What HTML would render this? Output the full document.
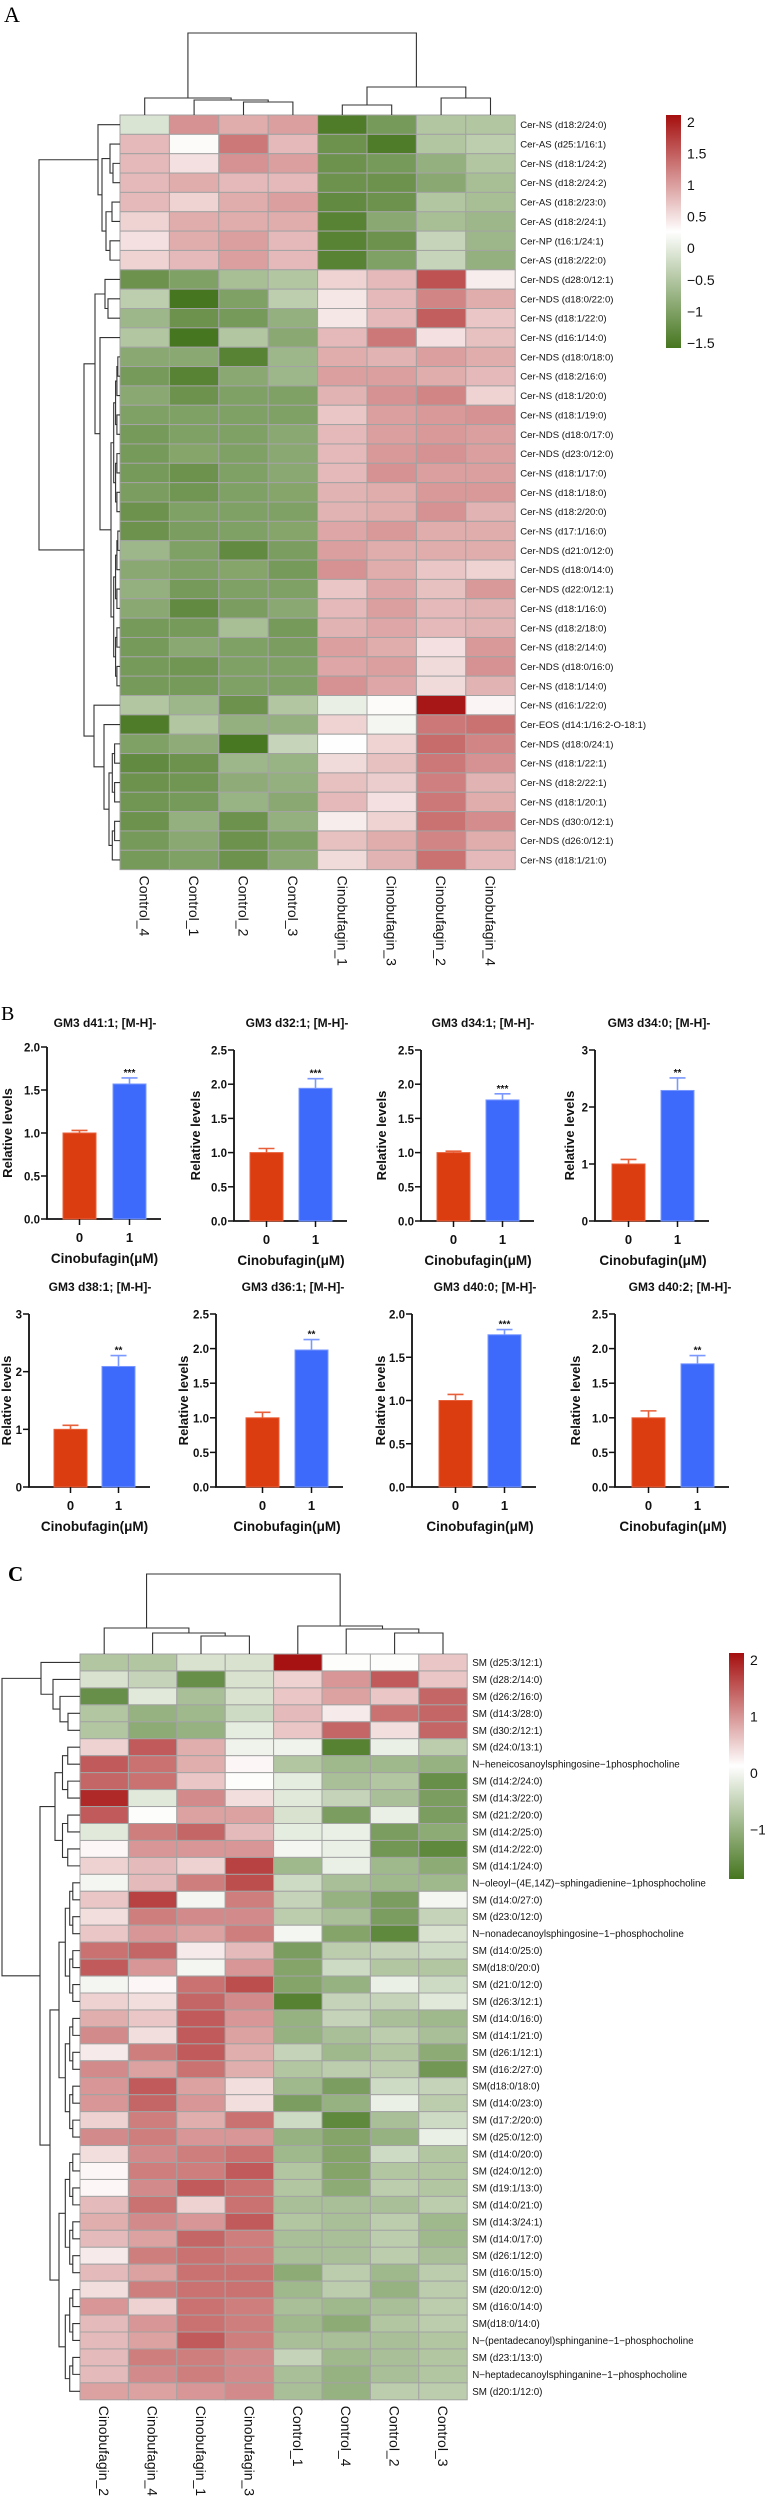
<!DOCTYPE html>
<html><head><meta charset="utf-8">
<style>
html,body{margin:0;padding:0;background:#fff;}
svg{display:block;font-family:"Liberation Sans",Arial,sans-serif;}
</style></head>
<body>
<svg id="fig" width="765" height="2500" viewBox="0 0 765 2500" xmlns="http://www.w3.org/2000/svg">
<defs>
<linearGradient id="gradA" x1="0" y1="1" x2="0" y2="0">
<stop offset="0" stop-color="#46761f"/><stop offset="0.5" stop-color="#ffffff"/><stop offset="1" stop-color="#a50f0f"/>
</linearGradient>
<linearGradient id="gradC" x1="0" y1="1" x2="0" y2="0">
<stop offset="0" stop-color="#46761f"/><stop offset="0.5" stop-color="#ffffff"/><stop offset="1" stop-color="#a50f0f"/>
</linearGradient>
</defs>
<text x="4" y="22" font-family="Liberation Serif,serif" font-size="22">A</text>
<text x="1" y="1020" font-family="Liberation Serif,serif" font-size="20">B</text>
<text x="8" y="1581" font-family="Liberation Serif,serif" font-size="21" font-weight="bold">C</text>
<g id="heatA"></g>
<g id="barsB"></g>
<g id="heatC"></g>
</svg>
<script>
// ===== Panel A data =====
const colsA = ["Control_4","Control_1","Control_2","Control_3","Cinobufagin_1","Cinobufagin_3","Cinobufagin_2","Cinobufagin_4"];
const rowsA = ["Cer-NS (d18:2/24:0)","Cer-AS (d25:1/16:1)","Cer-NS (d18:1/24:2)","Cer-NS (d18:2/24:2)","Cer-AS (d18:2/23:0)","Cer-AS (d18:2/24:1)","Cer-NP (t16:1/24:1)","Cer-AS (d18:2/22:0)","Cer-NDS (d28:0/12:1)","Cer-NDS (d18:0/22:0)","Cer-NS (d18:1/22:0)","Cer-NS (d16:1/14:0)","Cer-NDS (d18:0/18:0)","Cer-NS (d18:2/16:0)","Cer-NS (d18:1/20:0)","Cer-NS (d18:1/19:0)","Cer-NDS (d18:0/17:0)","Cer-NDS (d23:0/12:0)","Cer-NS (d18:1/17:0)","Cer-NS (d18:1/18:0)","Cer-NS (d18:2/20:0)","Cer-NS (d17:1/16:0)","Cer-NDS (d21:0/12:0)","Cer-NDS (d18:0/14:0)","Cer-NDS (d22:0/12:1)","Cer-NS (d18:1/16:0)","Cer-NS (d18:2/18:0)","Cer-NS (d18:2/14:0)","Cer-NDS (d18:0/16:0)","Cer-NS (d18:1/14:0)","Cer-NS (d16:1/22:0)","Cer-EOS (d14:1/16:2-O-18:1)","Cer-NDS (d18:0/24:1)","Cer-NS (d18:1/22:1)","Cer-NS (d18:2/22:1)","Cer-NS (d18:1/20:1)","Cer-NDS (d30:0/12:1)","Cer-NDS (d26:0/12:1)","Cer-NS (d18:1/21:0)"];
const valsA = [
[-0.1,1.1,0.9,1.0,-1.5,-1.1,-0.5,-0.5],[0.8,0.3,1.3,0.8,-1.2,-1.5,-0.5,-0.4],[0.8,0.5,1.1,1.0,-1.2,-1.1,-0.8,-0.5],[0.8,0.9,0.8,0.8,-1.2,-1.2,-0.9,-0.6],
[0.8,0.6,0.9,1.0,-1.3,-1.2,-0.5,-0.6],[0.6,0.9,0.9,0.9,-1.4,-0.9,-0.6,-0.7],[0.5,0.9,1.0,0.8,-1.4,-1.2,-0.3,-0.7],[0.6,0.8,1.0,0.8,-1.4,-1.0,-0.3,-0.8],
[-1.2,-1.0,-0.6,-0.5,0.6,0.8,1.6,0.4],[-0.4,-1.6,-1.0,-0.4,0.45,0.8,1.2,0.9],[-0.7,-1.2,-1.1,-0.8,0.45,0.8,1.5,0.7],[-0.5,-1.6,-0.5,-0.9,0.8,1.3,0.5,0.75],
[-0.9,-0.9,-1.4,-0.7,0.9,0.85,1.0,0.9],[-1.1,-1.4,-0.9,-0.7,1.0,1.0,0.9,0.8],[-0.9,-1.2,-1.0,-1.0,0.85,1.1,1.2,0.6],[-1.0,-1.0,-1.0,-1.0,0.7,1.0,1.05,1.1],
[-1.1,-1.0,-1.0,-0.9,0.8,1.0,1.05,1.0],[-1.1,-0.95,-1.0,-0.9,0.8,1.05,1.1,1.0],[-1.1,-1.2,-1.0,-0.9,0.8,1.1,1.0,1.0],[-1.05,-1.15,-1.0,-0.95,0.85,0.9,1.05,1.05],
[-1.2,-1.0,-1.0,-1.0,0.85,0.9,1.1,0.85],[-1.2,-1.05,-1.0,-0.95,0.95,1.05,0.9,0.9],[-0.7,-1.0,-1.3,-1.05,1.0,0.9,0.9,0.9],[-0.9,-1.0,-0.95,-1.1,1.1,0.9,0.7,0.6],
[-0.8,-1.1,-1.0,-1.0,0.7,0.95,0.75,1.05],[-0.9,-1.3,-1.05,-0.9,0.8,1.0,0.8,0.85],[-1.1,-1.1,-0.6,-1.1,0.85,0.95,0.8,0.85],[-1.1,-0.9,-1.0,-1.05,1.0,0.9,0.5,1.05],
[-1.1,-1.15,-1.0,-1.0,0.95,1.0,0.55,1.1],[-1.1,-1.1,-1.0,-1.0,1.1,0.95,0.55,0.85],[-0.5,-0.7,-1.2,-0.5,0.05,0.3,2.05,0.35],[-1.5,-0.5,-0.8,-0.8,0.6,0.15,1.3,1.35],
[-1.0,-0.85,-1.55,-0.3,0.25,0.6,1.4,1.2],[-1.3,-1.2,-0.7,-0.75,0.55,0.75,1.3,1.1],[-1.2,-1.15,-0.85,-0.8,0.75,0.65,1.25,0.85],[-1.15,-1.1,-0.75,-0.9,0.8,0.5,1.3,0.9],
[-1.2,-0.8,-1.2,-0.8,0.4,0.6,1.35,1.15],[-1.1,-0.9,-1.2,-1.0,0.75,0.9,1.2,0.9],[-1.1,-1.0,-1.2,-0.9,0.55,0.85,1.35,0.8]];
const ticksA = [2,1.5,1,0.5,0,-0.5,-1,-1.5];

// ===== Panel C data =====
const colsC = ["Cinobufagin_2","Cinobufagin_4","Cinobufagin_1","Cinobufagin_3","Control_1","Control_4","Control_2","Control_3"];
const rowsC = ["SM (d25:3/12:1)","SM (d28:2/14:0)","SM (d26:2/16:0)","SM (d14:3/28:0)","SM (d30:2/12:1)","SM (d24:0/13:1)","N\u2212heneicosanoylsphingosine\u22121phosphocholine","SM (d14:2/24:0)","SM (d14:3/22:0)","SM (d21:2/20:0)","SM (d14:2/25:0)","SM (d14:2/22:0)","SM (d14:1/24:0)","N\u2212oleoyl\u2212(4E,14Z)\u2212sphingadienine\u22121phosphocholine"," SM (d14:0/27:0)","SM (d23:0/12:0)","N\u2212nonadecanoylsphingosine\u22121\u2212phosphocholine","SM (d14:0/25:0)","SM(d18:0/20:0)","SM (d21:0/12:0)","SM (d26:3/12:1)","SM (d14:0/16:0)","SM (d14:1/21:0)","SM (d26:1/12:1)","SM (d16:2/27:0)","SM(d18:0/18:0)","SM (d14:0/23:0)","SM (d17:2/20:0)","SM (d25:0/12:0)","SM (d14:0/20:0)","SM (d24:0/12:0)","SM (d19:1/13:0)","SM (d14:0/21:0)","SM (d14:3/24:1)","SM (d14:0/17:0)","SM (d26:1/12:0)","SM (d16:0/15:0)","SM (d20:0/12:0)","SM (d16:0/14:0)","SM(d18:0/14:0)","N\u2212(pentadecanoyl)sphinganine\u22121\u2212phosphocholine","SM (d23:1/13:0)","N\u2212heptadecanoylsphinganine\u22121\u2212phosphocholine","SM (d20:1/12:0)"];
const valsC = [
[-0.7,-0.7,-0.3,-0.3,2.1,0.1,0.1,0.6],[-0.3,-0.5,-1.5,-0.3,0.5,1.0,1.5,0.6],[-1.5,-0.2,-0.8,-0.3,0.6,0.9,0.6,1.4],[-0.7,-1.0,-0.9,-0.4,0.7,0.3,1.3,1.4],
[-0.7,-1.1,-1.0,-0.15,0.6,1.4,0.4,1.4],[0.5,1.5,0.8,-0.05,-0.05,-1.7,-0.1,-0.6],[1.5,1.3,0.8,0.2,-0.7,-0.9,-0.9,-1.0],[1.4,1.3,0.6,0.1,-0.15,-0.8,-0.7,-1.5],
[1.9,-0.2,1.1,0.4,-0.2,-0.5,-0.8,-1.3],[1.5,0.1,0.9,0.9,-0.3,-1.3,-0.1,-1.3],[-0.2,1.2,1.4,0.7,-0.15,-0.1,-1.3,-1.1],[0.2,1.0,1.0,1.0,0.0,-0.1,-1.4,-1.6],
[0.5,0.7,0.5,1.7,-0.9,-0.1,-0.9,-1.1],[0.0,0.7,1.2,1.6,-0.4,-0.8,-0.9,-0.9],[0.6,1.7,0.0,1.2,-0.5,-1.0,-1.3,0.0],[0.4,1.2,1.1,1.1,-0.6,-0.8,-1.3,-0.5],
[0.6,1.0,0.9,1.2,0.0,-1.2,-1.6,-0.3],[1.3,1.4,0.3,0.7,-1.3,-0.6,-0.5,-0.4],[1.5,1.0,0.0,1.0,-1.2,-0.4,-0.7,-0.7],[0.0,0.2,1.3,1.6,-1.2,-1.0,-0.1,-0.4],
[0.5,0.4,1.4,1.1,-1.7,-0.5,-0.5,-0.2],[0.8,0.6,1.5,1.0,-1.0,-0.5,-0.8,-0.9],[1.1,0.4,1.5,0.9,-1.0,-0.8,-0.6,-0.8],[0.3,1.2,1.5,0.8,-0.5,-0.9,-0.7,-1.1],
[1.1,0.9,1.3,0.8,-0.7,-0.6,-0.6,-1.4],[1.0,1.5,0.9,0.4,-0.9,-1.3,-0.4,-0.5],[1.0,1.4,1.0,0.4,-1.3,-1.0,-0.1,-0.6],[0.5,1.2,0.8,1.3,-0.4,-1.6,-0.8,-0.4],
[1.1,1.2,1.0,1.0,-1.0,-1.2,-1.0,-0.1],[0.4,1.1,1.2,1.3,-0.9,-1.2,-0.4,-0.7],[0.2,1.2,1.2,1.5,-0.7,-1.2,-0.7,-0.7],[0.2,1.1,1.5,1.3,-0.7,-1.1,-0.6,-0.7],
[0.7,1.3,0.5,1.3,-0.8,-0.8,-0.8,-0.6],[0.8,1.1,1.0,1.5,-0.7,-0.8,-0.6,-0.9],[0.7,0.9,1.4,1.2,-0.8,-0.8,-0.6,-0.9],[0.3,1.2,1.3,1.2,-0.8,-0.8,-0.6,-0.8],
[0.7,0.9,1.3,1.3,-1.1,-0.6,-0.9,-0.6],[0.4,1.2,1.3,1.3,-0.9,-0.6,-1.0,-0.6],[1.0,0.5,1.3,1.2,-0.8,-0.9,-0.8,-0.6],[0.7,1.0,1.3,1.2,-0.9,-1.1,-0.7,-0.6],
[0.7,0.9,1.5,1.2,-0.8,-0.8,-0.8,-0.7],[0.7,1.2,1.2,1.1,-0.5,-0.9,-0.8,-0.7],[0.7,1.1,1.2,1.1,-0.8,-1.0,-0.8,-0.7],[0.9,0.9,1.0,1.1,-0.8,-1.0,-0.6,-0.6]];
const ticksC = [2,1,0,-1];

// ===== Panel B data =====
const titlesB = ["GM3 d41:1; [M-H]-","GM3 d32:1; [M-H]-","GM3 d34:1; [M-H]-","GM3 d34:0; [M-H]-","GM3 d38:1; [M-H]-","GM3 d36:1; [M-H]-","GM3 d40:0; [M-H]-","GM3 d40:2; [M-H]-"];
const yMaxB = [2.0,2.5,2.5,3,3,2.5,2.0,2.5];
const yStepB = [0.5,0.5,0.5,1,1,0.5,0.5,0.5];
const tickDecB = [1,1,1,0,0,1,1,1];
const groupsB = ["0","1"];
const ctrlB = [1.0,1.0,1.0,1.0,1.0,1.0,1.0,1.0];
const ctrlErrB = [0.03,0.06,0.02,0.08,0.07,0.08,0.07,0.1];
const treatB = [1.57,1.94,1.77,2.29,2.09,1.98,1.76,1.78];
const treatErrB = [0.07,0.14,0.09,0.22,0.19,0.15,0.06,0.12];
const starsB = ["***","***","***","**","**","**","***","**"];

const NS="http://www.w3.org/2000/svg";
function mk(tag, attrs, parent){const e=document.createElementNS(NS,tag);for(const k in attrs)e.setAttribute(k,attrs[k]);parent.appendChild(e);return e;}
function fmtNum(v){return (v<0?"\u2212":"")+Math.abs(v);}

function colorFor(v,vmin,vmax){
  const g=[70,118,31], w=[255,255,255], r=[165,15,15];
  const mid=(vmin+vmax)/2;
  let a,b,t;
  if(v<=mid){a=g;b=w;t=(v-vmin)/(mid-vmin);}else{a=w;b=r;t=(v-mid)/(vmax-mid);}
  t=Math.max(0,Math.min(1,t));
  return "rgb("+a.map((c,i)=>Math.round(c+(b[i]-c)*t)).join(",")+")";
}
function auto(lo,hi,h){if(lo===hi)return lo;const m=Math.floor((lo+hi)/2);return [h,auto(lo,m,h*0.7),auto(m+1,hi,h*0.7)];}

function drawTree(node,g,pos,base,orient){
  if(typeof node==="number")return {p:pos(node),h:0};
  const L=drawTree(node[1],g,pos,base,orient), R=drawTree(node[2],g,pos,base,orient);
  const h=node[0];
  let d;
  if(orient==="top"){d=`M${L.p},${base-L.h}V${base-h}H${R.p}V${base-R.h}`;}
  else{d=`M${base-L.h},${L.p}H${base-h}V${R.p}H${base-R.h}`;}
  const p=mk("path",{d:d,fill:"none",stroke:"#333","stroke-width":"1.1"},g);
  
  
  return {p:(L.p+R.p)/2,h:h};
}

function heatmap(gid,cfg){
  const g=document.getElementById(gid);
  const {x0,y0,cw,rh,rows,cols,vals,vmin,vmax}=cfg;
  vals.forEach((row,i)=>row.forEach((v,j)=>{
    const r=mk("rect",{x:x0+j*cw,y:y0+i*rh,width:cw,height:rh,fill:colorFor(v,vmin,vmax),stroke:"#a3a3a3","stroke-width":"1"},g);
    
    
  }));
  rows.forEach((lab,i)=>{
    const t=mk("text",{x:x0+cols.length*cw+cfg.labDx,y:y0+(i+0.5)*rh+3.5,"font-size":cfg.rowFont,fill:"#111"},g);
    t.textContent=lab;
    
    
  });
  cols.forEach((lab,j)=>{
    const cx=x0+(j+0.5)*cw, cy=y0+rows.length*rh+6;
    const t=mk("text",{x:cx,y:cy,"font-size":"14",fill:"#111","dominant-baseline":"central",transform:`rotate(90 ${cx} ${cy})`},g);
    t.textContent=lab;
    
    
  });
  drawTree(cfg.colTree,g,j=>x0+(j+0.5)*cw,y0,"top");
  drawTree(cfg.rowTree,g,i=>y0+(i+0.5)*rh,x0,"left");
  const cb=cfg.cb;
  const bar=mk("rect",{x:cb.x,y:cb.y0,width:cb.w,height:cb.y1-cb.y0,fill:`url(#${cb.grad})`},g);
  
  
  const sc=v=>cb.y1-(v-vmin)/(vmax-vmin)*(cb.y1-cb.y0);
  cfg.ticks.forEach(v=>{
    const t=mk("text",{x:cb.x+cb.w+6,y:sc(v)+5,"font-size":"14",fill:"#111"},g);
    t.textContent=fmtNum(v);
    
    
  });
}

heatmap("heatA",{x0:120,y0:115,cw:49.4,rh:19.35,rows:rowsA,cols:colsA,vals:valsA,vmin:-1.58,vmax:2.11,labDx:5,rowFont:"9.6",
  colTree:[82,[17,0,[15,1,[13,2,3]]],[28,[10,4,5],[17,6,7]]],
  rowTree:[81,[22,0,[18,[10,1,[7,2,3]],[14,[8,4,5],[10,6,7]]]],[36,[25,[15,8,[12,9,10]],[20,11,auto(12,29,9)]],[26,30,[16,31,auto(32,38,11)]]]],
  ticks:ticksA,cb:{x:666,w:15,y0:115,y1:348,grad:"gradA"}});

heatmap("heatC",{x0:80,y0:1654,cw:48.4,rh:16.95,rows:rowsC,cols:colsC,vals:valsC,vmin:-1.87,vmax:2.12,labDx:5,rowFont:"9.8",
  colTree:[80,[26,0,[21,1,[18,2,3]]],[28,4,[25,5,[21,6,7]]]],
  rowTree:[78,[39,0,[27,1,[20,2,[12,3,4]]]],[40,auto(5,12,25),auto(13,43,30)]],
  ticks:ticksC,cb:{x:729,w:15,y0:1653,y1:1879,grad:"gradC"}});

// ===== Bar charts =====
(function(){
  const g=document.getElementById("barsB");
  const layout=[
    {ax:47,r:63,b:113,top:1047,base:1219,tx:105,ytx:12},
    {ax:234,r:250,b:299,top:1050,base:1221,tx:297,ytx:200},
    {ax:421,r:437,b:486,top:1050,base:1221,tx:483,ytx:386},
    {ax:595,r:612,b:661,top:1050,base:1221,tx:659,ytx:574},
    {ax:29,r:54,b:102,top:1314,base:1487,tx:100,ytx:11},
    {ax:216,r:246,b:295,top:1314,base:1487,tx:293,ytx:188},
    {ax:412,r:439,b:488,top:1314,base:1487,tx:485,ytx:385},
    {ax:615,r:632,b:681,top:1314,base:1487,tx:680,ytx:580}];
  const bw=33;
  layout.forEach((L,i)=>{
    const cg=mk("g",{},g);
    
    
    const y=v=>L.base-v/yMaxB[i]*(L.base-L.top);
    const titleY = i<4?1027:1291;
    const t=mk("text",{x:L.tx,y:titleY,"font-size":"12","font-weight":"bold","text-anchor":"middle",fill:"#111"},cg);
    t.textContent=titlesB[i];
    
    
    const end=L.b+bw+15;
    const ax=mk("path",{d:`M${L.ax},${L.top}V${L.base}H${end}`,fill:"none",stroke:"#111","stroke-width":"1.8"},cg);
    
    
    for(let v=0;v<=yMaxB[i]+1e-9;v+=yStepB[i]){
      const yy=y(v);
      const tk=mk("line",{x1:L.ax-6,x2:L.ax,y1:yy,y2:yy,stroke:"#111","stroke-width":"1.5"},cg);
      
      
      const tl=mk("text",{x:L.ax-7,y:yy+4.5,"font-size":"11.5","font-weight":"bold","text-anchor":"end",fill:"#111"},cg);
      tl.textContent=v.toFixed(tickDecB[i]);
      
      
    }
    const tx=L.ytx, ty=(L.top+L.base)/2;
    const yt=mk("text",{x:tx,y:ty,"font-size":"13","font-weight":"bold","text-anchor":"middle",transform:`rotate(-90 ${tx} ${ty})`,fill:"#111"},cg);
    yt.textContent="Relative levels";
    
    
    const bars=[{x:L.r,v:ctrlB[i],e:ctrlErrB[i],f:"#dc3d10",s:"#e8603a",n:"bar-control"},{x:L.b,v:treatB[i],e:treatErrB[i],f:"#3d6afa",s:"#7a98ff",n:"bar-cinobufagin"}];
    bars.forEach((B,k)=>{
      const by=y(B.v), ey=y(B.v+B.e), cx=B.x+bw/2;
      const eb=mk("path",{d:`M${cx},${by}V${ey}M${cx-8},${ey}H${cx+8}`,stroke:B.s,"stroke-width":"1.6",fill:"none"},cg);
      
      
      const r=mk("rect",{x:B.x,y:by,width:bw,height:L.base-by,fill:B.f,stroke:B.s,"stroke-width":"1"},cg);
      
      
      const xt=mk("line",{x1:cx,x2:cx,y1:L.base,y2:L.base+6,stroke:"#111","stroke-width":"1.5"},cg);
      
      
      const xl=mk("text",{x:cx,y:L.base+23,"font-size":"13","font-weight":"bold","text-anchor":"middle",fill:"#111"},cg);
      xl.textContent=groupsB[k];
      
      
      if(k===1){
        const st=mk("text",{x:cx,y:ey-2,"font-size":"10","font-weight":"bold","text-anchor":"middle",fill:"#111"},cg);
        st.textContent=starsB[i];
        
        
      }
    });
    const xt=mk("text",{x:(L.r+L.b+bw)/2,y:L.base+44,"font-size":"13.5","font-weight":"bold","text-anchor":"middle",fill:"#111"},cg);
    xt.textContent="Cinobufagin(\u03bcM)";
    
    
  });
})();
</script>
</body></html>
